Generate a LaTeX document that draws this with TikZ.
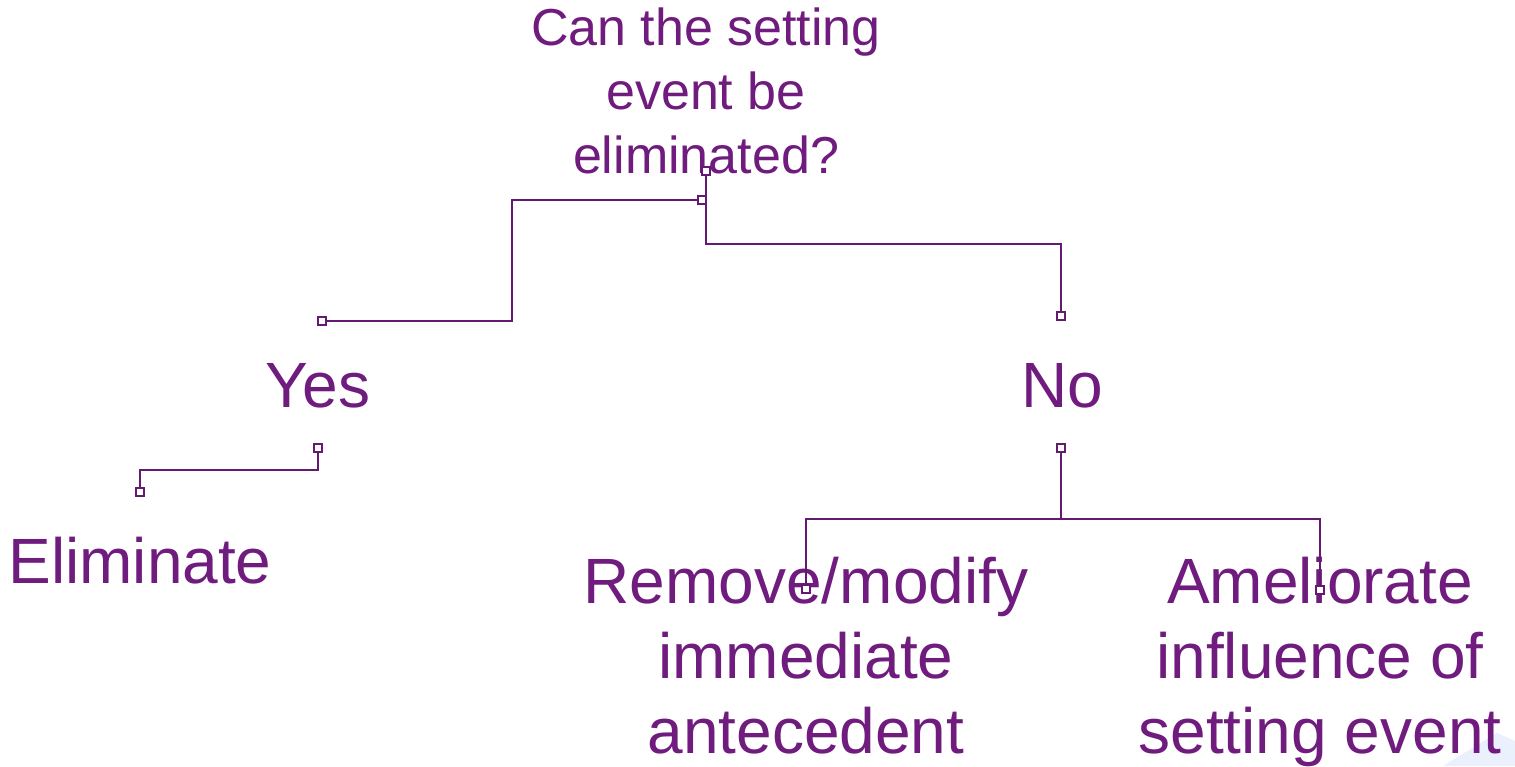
\documentclass[tikz,border=0pt]{standalone}
\usepackage{fontspec}
\setmainfont{Liberation Sans}
\usetikzlibrary{calc}
\definecolor{plum}{RGB}{112,28,126}
\definecolor{plumline}{RGB}{100,26,112}
\definecolor{tint}{RGB}{235,240,253}
\tikzset{
  label/.style={text=plum, inner sep=0pt, anchor=base, align=center},
  question/.style={label, font=\fontsize{26pt}{32pt}\selectfont},
  answer/.style={label, font=\fontsize{32pt}{37.5pt}\selectfont},
  link/.style={draw=plumline, line width=1pt},
  port/.style={draw=plumline, fill=white, line width=0.9pt, minimum size=4.2pt, inner sep=0pt, rectangle}
}
\begin{document}
\begin{tikzpicture}[x=0.5pt, y=-0.5pt]
  \useasboundingbox (0,0) rectangle (1515,766);
  \fill[white] (0,0) rectangle (1515,766);
  \fill[tint] (1443,766) -- (1497,733) -- (1515,741) -- (1515,766) -- cycle;

  % texts (base anchor sits on the last line)
  \node[question] (q) at (706,173) {Can the setting\\event be\\eliminated?};
  \node[answer] (yes) at (318,407) {Yes};
  \node[answer] (no) at (1062,407) {No};
  \node[answer] (elim) at (140,583) {Eliminate};
  \node[answer] (remove) at (806,753) {Remove/modify\\immediate\\antecedent};
  \node[answer] (amel) at (1320,753) {Ameliorate\\influence of\\setting event};

  % connector end points
  \coordinate (qa) at (702,200);
  \coordinate (qb) at (706,171);
  \coordinate (ya) at (322,321);
  \coordinate (yb) at (318,448);
  \coordinate (na) at (1061,316);
  \coordinate (nb) at (1061,448);
  \coordinate (ea) at (140,492);
  \coordinate (ra) at (806,589);
  \coordinate (aa) at (1320,590);

  % elbow connectors
  \draw[link] (qa) -| ($(qa)!.5!(ya)$) |- (ya);
  \draw[link] (qb) |- ($(qb)!.5!(na)$) -| (na);
  \draw[link] (yb) |- ($(yb)!.5!(ea)$) -| (ea);
  \draw[link] (nb) |- ($(nb)!.5!(ra)$) -| (ra);
  \draw[link] (nb) |- ($(nb)!.5!(aa)$) -| (aa);

  % small square terminals
  \node[port] (pqa) at (qa) {};
  \node[port] (pqb) at (qb) {};
  \node[port] (pya) at (ya) {};
  \node[port] (pyb) at (yb) {};
  \node[port] (pna) at (na) {};
  \node[port] (pnb) at (nb) {};
  \node[port] (pea) at (ea) {};
  \node[port] (pra) at (ra) {};
  \node[port] (paa) at (aa) {};
\end{tikzpicture}
\end{document}
